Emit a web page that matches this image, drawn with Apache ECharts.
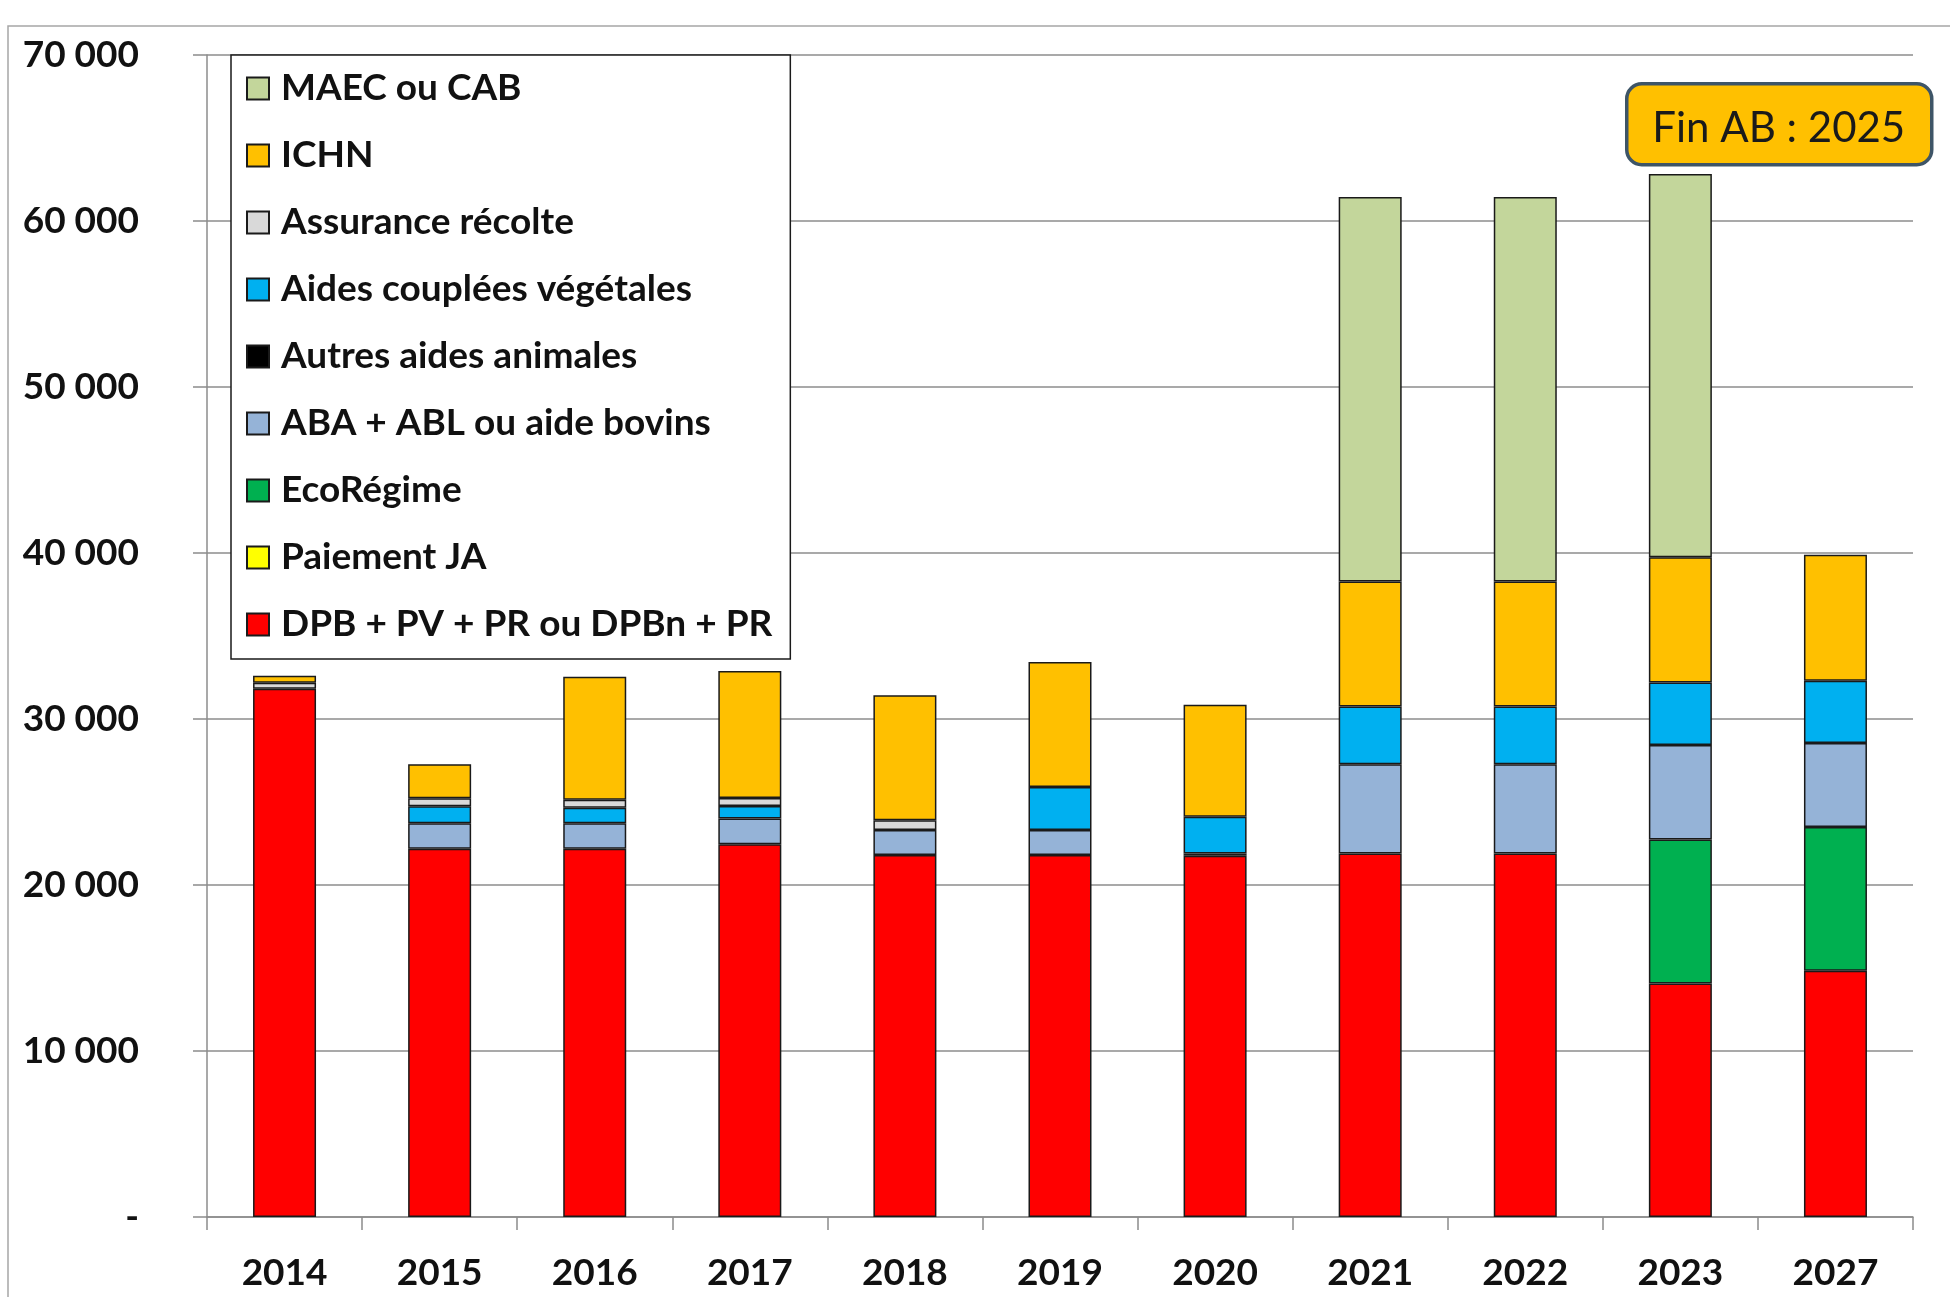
<!DOCTYPE html>
<html>
<head>
<meta charset="utf-8">
<title>Aides PAC</title>
<script src="https://cdn.jsdelivr.net/npm/echarts@6/dist/echarts.min.js"></script>
<style>
  html, body { margin: 0; padding: 0; background: #fff; }
  #chart { width: 1950px; height: 1297px; }
</style>
</head>
<body>
<div id="chart"></div>
<script>
'use strict';

// années
var years = ['2014', '2015', '2016', '2017', '2018', '2019', '2020', '2021', '2022', '2023', '2027'];

// montants par poste
var dpb        = [31820, 22180, 22180, 22460, 21800, 21800, 21760, 21900, 21900, 14060, 14840];
var paiementJA = [null, null, null, null, null, null, null, null, null, null, null];
var ecoRegime  = [null, null, null, null, null, null, null, null, null, 8680, 8650];
var abaAbl     = [null, 1540, 1540, 1540, 1520, 1520, null, 5380, 5380, 5700, 5070];
var autresAnim = [null, null, null, null, null, null, 140, null, null, null, null];
var couplees   = [null, 1030, 930, 760, null, 2590, 2210, 3480, 3480, 3760, 3740];
var assurance  = [360, 480, 480, 480, 580, null, null, null, null, null, null];
var ichn       = [420, 2040, 7420, 7650, 7530, 7520, 6750, 7530, 7530, 7550, 7600];
var maec       = [null, null, null, null, null, null, null, 23160, 23160, 23075, null];

// ticks axe Y
var yTicks = [0, 10000, 20000, 30000, 40000, 50000, 60000, 70000];

var FONT = 'Lato, "Open Sans", sans-serif';

// du bas vers le haut de la pile
var seriesDefs = [
    { name: 'DPB + PV + PR ou DPBn + PR', data: dpb, color: '#FF0000' },
    { name: 'Paiement JA', data: paiementJA, color: '#FFFF00' },
    { name: 'EcoRégime', data: ecoRegime, color: '#00B050' },
    { name: 'ABA + ABL ou aide bovins', data: abaAbl, color: '#95B3D7' },
    { name: 'Autres aides animales', data: autresAnim, color: '#000000' },
    { name: 'Aides couplées végétales', data: couplees, color: '#00B0F0' },
    { name: 'Assurance récolte', data: assurance, color: '#D9D9D9' },
    { name: 'ICHN', data: ichn, color: '#FFC000' },
    { name: 'MAEC ou CAB', data: maec, color: '#C3D69B' }
];

var series = seriesDefs.map(function (s) {
    return {
        name: s.name,
        type: 'bar',
        stack: 'total',
        barWidth: 63,
        data: s.data,
        itemStyle: { color: s.color, borderColor: '#1a1a1a', borderWidth: 1.5 }
    };
});

var legendNames = seriesDefs.map(function (s) { return s.name; }).reverse();

function fmt(v) {
    if (v === 0) { return '-'; }
    var s = String(v);
    return s.slice(0, s.length - 3) + ' ' + s.slice(s.length - 3);
}

var chart = echarts.init(document.getElementById('chart'));

chart.setOption({
    animation: false,
    backgroundColor: '#fff',
    grid: { left: 207, right: 37, top: 55, bottom: 80 },
    legend: {
        data: legendNames,
        orient: 'vertical',
        left: 231,
        top: 55,
        padding: [13, 18, 14, 15],
        itemWidth: 22,
        itemHeight: 22,
        itemGap: 26,
        backgroundColor: '#fff',
        borderColor: '#1a1a1a',
        borderWidth: 1.5,
        borderRadius: 0,
        icon: 'rect',
        textStyle: {
            fontFamily: FONT, fontWeight: 'bold', fontSize: 37, lineHeight: 41, color: '#111',
            padding: [0, 0, 0, 7]
        }
    },
    xAxis: {
        type: 'category',
        data: years,
        axisLine: { lineStyle: { color: '#8c8c8c', width: 1.5 } },
        axisTick: { show: true, length: 13, lineStyle: { color: '#8c8c8c', width: 1.5 } },
        axisLabel: { margin: 38, fontFamily: FONT, fontWeight: 'bold', fontSize: 37, color: '#111' }
    },
    yAxis: {
        type: 'value',
        min: yTicks[0],
        max: yTicks[yTicks.length - 1],
        interval: 10000,
        axisLine: { show: true, lineStyle: { color: '#8c8c8c', width: 1.5 } },
        axisTick: { show: true, length: 14, lineStyle: { color: '#8c8c8c', width: 1.5 } },
        splitLine: { lineStyle: { color: '#8c8c8c', width: 1.5 } },
        axisLabel: {
            margin: 68,
            fontFamily: FONT, fontWeight: 'bold', fontSize: 37, color: '#111',
            formatter: fmt
        }
    },
    graphic: [
        {
            type: 'rect',
            silent: true,
            z: -1,
            shape: { x: 8, y: 26, width: 2000, height: 1400 },
            style: { fill: 'none', stroke: '#a6a6a6', lineWidth: 1.5 }
        },
        {
            type: 'group',
            left: 1625,
            top: 82,
            children: [
                {
                    type: 'rect',
                    shape: { x: 0, y: 0, width: 305, height: 81, r: 15 },
                    style: { fill: '#FFC000', stroke: '#3E5567', lineWidth: 3.5 }
                },
                {
                    type: 'text',
                    x: 152,
                    y: 45,
                    style: {
                        text: 'Fin AB : 2025',
                        fontFamily: FONT,
                        fontSize: 42,
                        fill: '#1a1a1a',
                        align: 'center',
                        verticalAlign: 'middle'
                    }
                }
            ]
        }
    ],
    series: series
});
</script>
</body>
</html>
